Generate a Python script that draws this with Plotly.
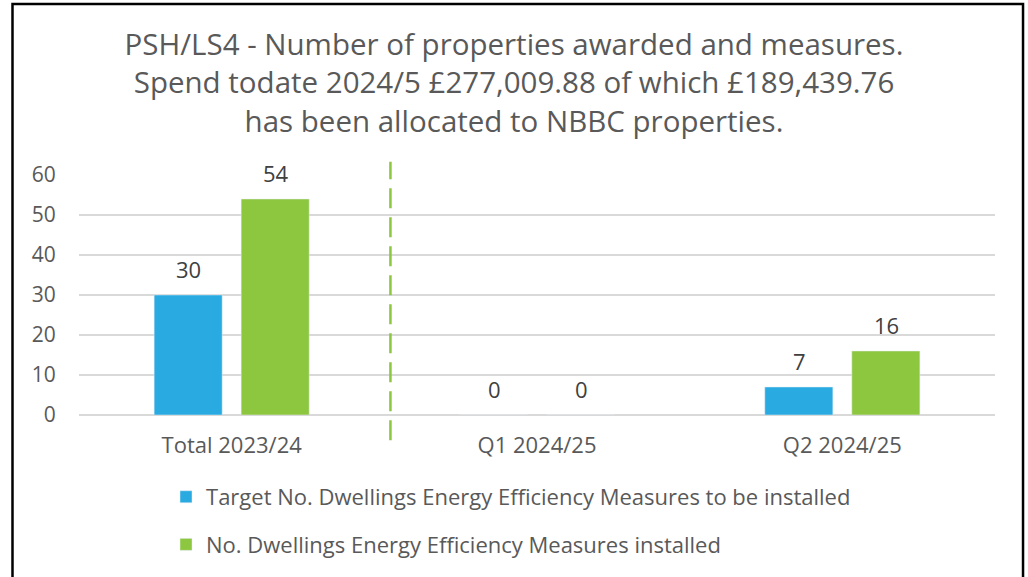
import plotly.graph_objects as go

# Chart data
categories = ["Total 2023/24", "Q1 2024/25", "Q2 2024/25"]
target_values = [30, 0, 7]
installed_values = [54, 0, 16]
series_names = [
    "Target No. Dwellings Energy Efficiency Measures to be installed",
    "No. Dwellings Energy Efficiency Measures installed",
]
title_lines = [
    "PSH/LS4 - Number of properties awarded and measures.",
    "Spend todate 2024/5 £277,009.88 of which £189,439.76",
    "has been allocated to NBBC properties.",
]
y_ticks = [0, 10, 20, 30, 40, 50, 60]

BLUE = "#29ABE2"
GREEN = "#8DC63F"
TEXT = "#595959"
FONT = "Open Sans"

fig = go.Figure()
fig.add_trace(go.Bar(x=categories, y=target_values, name=series_names[0],
                     marker=dict(color=BLUE), legendgroup="a"))
fig.add_trace(go.Bar(x=categories, y=installed_values, name=series_names[1],
                     marker=dict(color=GREEN), legendgroup="b"))

# value labels above each bar
for vals, shift in ((target_values, -43), (installed_values, 44)):
    for cat, v in zip(categories, vals):
        fig.add_annotation(x=cat, y=v, text=str(v), showarrow=False,
                           xshift=shift, yshift=26, yanchor="middle",
                           font=dict(family=FONT, size=22, color="#404040"))

# dashed separator between the annual total and the quarters
fig.add_shape(type="line", xref="x", yref="paper", x0=0.52, x1=0.52,
              y0=-0.105, y1=1.055,
              line=dict(color=GREEN, width=2.5, dash="20px,9px"))

# outer frame
fig.add_shape(type="rect", xref="paper", yref="paper",
              x0=-0.0726, x1=1.0306, y0=-0.7, y1=1.7125,
              line=dict(color="black", width=2.5), layer="above")

fig.update_layout(
    width=1028, height=577,
    margin=dict(l=79, r=33, t=175, b=162, autoexpand=False),
    paper_bgcolor="white", plot_bgcolor="white",
    barmode="group", bargap=0.43, bargroupgap=0.218,
    title=dict(text="<br>".join(title_lines), x=0.5, xref="container",
               y=0.905, yref="container", yanchor="top",
               font=dict(family=FONT, size=29.5, color=TEXT)),
    font=dict(family=FONT, color=TEXT),
    xaxis=dict(showgrid=False, showline=False, ticks="outside", ticklen=11,
               tickcolor="rgba(0,0,0,0)", tickfont=dict(size=22, color=TEXT)),
    yaxis=dict(range=[0, 60], tickvals=y_ticks, showgrid=True,
               gridcolor="#D9D9D9", gridwidth=1.5, zeroline=True,
               zerolinecolor="#D9D9D9", zerolinewidth=1.5, showline=False,
               ticks="outside", ticklen=18, tickcolor="rgba(0,0,0,0)",
               tickfont=dict(size=21, color=TEXT)),
    legend=dict(x=0.095, y=-0.254, xanchor="left", yanchor="top",
                orientation="v", tracegroupgap=16,
                font=dict(family=FONT, size=22, color=TEXT)),
    showlegend=True,
)

fig.write_html("out.html")
